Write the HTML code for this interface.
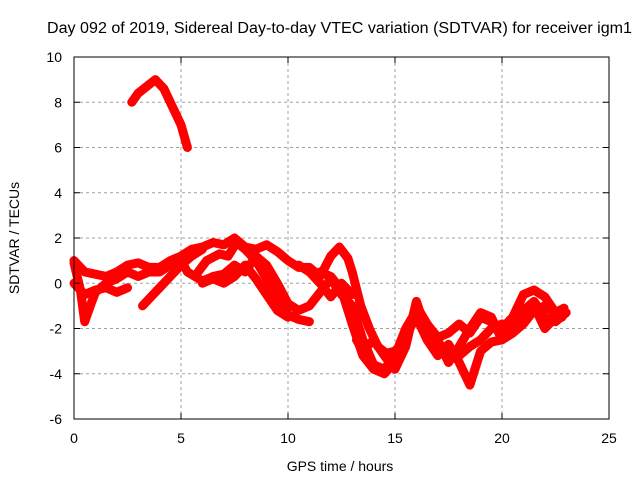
<!DOCTYPE html>
<html><head><meta charset="utf-8"><style>
body{margin:0;background:#fff}
svg text{font-family:"Liberation Sans",sans-serif;font-size:14px;fill:#000}
</style></head><body>
<svg id="c" width="640" height="480" xmlns="http://www.w3.org/2000/svg">
<text x="339.5" y="33" text-anchor="middle" textLength="585" lengthAdjust="spacingAndGlyphs" style="font-size:15.5px">Day 092 of 2019, Sidereal Day-to-day VTEC variation (SDTVAR) for receiver igm1</text>
<text x="340" y="471" text-anchor="middle">GPS time / hours</text>
<text transform="translate(19,238) rotate(-90)" text-anchor="middle">SDTVAR / TECUs</text>
<g id="grid"></g><g id="series"></g><g id="axes"></g>
</svg>
<script>
const xTicks=[0,5,10,15,20,25];
const yTicks=[-6,-4,-2,0,2,4,6,8,10];
const trackA=[[2.7,8.0],[3.0,8.4],[3.4,8.7],[3.8,9.0],[4.2,8.6],[4.6,7.8],[5.0,7.0],[5.3,6.0]];
const track1=[[0,1.0],[0.5,0.5],[1,0.4],[1.5,0.3],[2,0.5],[2.5,0.8],[3,0.9],[3.5,0.7],[4,0.7],[4.5,1.0],[5,1.2],[5.5,1.5],[6,1.6],[6.5,1.8],[7,1.7],[7.5,2.0],[8,1.6],[8.5,1.5],[9,1.7],[9.5,1.4],[10,1.0],[10.5,0.7],[11,0.7],[11.5,0.3],[12,1.2],[12.4,1.6],[12.8,1.1],[13,0.5],[13.4,-1.0],[13.8,-2.0],[14.2,-2.8],[14.6,-3.1],[15,-3.0],[15.5,-2.5],[16,-1.0],[16.5,-1.8],[17,-2.4],[17.5,-2.2],[18,-1.8],[18.5,-2.2],[19,-1.5],[19.5,-1.7],[20,-2.0],[20.5,-1.5],[21,-0.5],[21.5,-0.3],[22,-0.6],[22.5,-1.3],[22.9,-1.1]];
const track2=[[0,0.9],[0.3,-0.3],[0.5,-1.7],[0.8,-0.9],[1,-0.4],[1.5,0],[2,0.2],[2.5,0.5],[3,0.3],[3.5,0.5],[4,0.5],[4.5,0.8],[5,1.0],[5.3,0.5],[6,0.1],[6.5,0.3],[7,0.4],[7.5,0.8],[8,0.5],[8.5,1.2],[9,0.8],[9.5,0],[10,-0.9],[10.5,-1.2],[11,-1.0],[11.5,-0.4],[12,0.2],[12.5,-0.5],[13,-1.0],[13.5,-2.5],[14,-3.6],[14.5,-3.8],[15,-3.2],[15.5,-2.0],[16,-1.2],[16.5,-1.8],[17,-2.8],[17.5,-3.0],[18,-3.2],[18.5,-2.8],[19,-2.5],[19.5,-2.0],[20,-1.8],[20.5,-2.2],[21,-1.2],[21.5,-0.8],[22,-1.5],[22.5,-1.7],[23,-1.3]];
const track3a=[[0,0],[0.5,-0.5],[1,-0.3],[1.5,-0.2],[2,-0.4],[2.5,-0.2]];
const track3b=[[3.2,-1.0],[3.5,-0.7],[4,-0.2],[4.5,0.3],[5,0.8],[5.5,1.2],[6,1.5]];
const track3c=[[5.8,0.5],[6.2,1.0],[6.8,1.3],[7.2,1.2],[7.6,1.8],[8,1.5],[8.5,1.0],[9,0.2],[9.5,-0.6],[10,-1.4],[10.5,-1.6],[11,-1.7]];
const track3d=[[11.5,0.5],[12,0.3],[12.5,-0.3],[13,-1.8],[13.5,-3.2],[14,-3.8],[14.5,-4.0],[15,-3.5],[15.5,-2.3],[16,-1.5],[16.5,-2.5],[17,-3.2],[17.5,-2.7],[18,-3.5],[18.5,-4.5],[19,-3.0],[19.5,-2.6],[20,-2.5],[20.5,-2.0],[21,-1.5],[21.5,-1.0],[22,-2.0],[22.5,-1.5]];
const track4a=[[6,0],[6.5,0.2],[7,0],[7.5,0.3],[8,0.8],[8.5,0.2],[9,-0.5],[9.5,-1.2],[10,-1.5]];
const track4b=[[10.5,0.8],[11,0.5],[11.5,0],[12,-0.6],[12.5,0],[13,-0.5]];
const track4c=[[13.2,-2.5],[13.5,-3.0],[14,-2.5],[14.5,-3.2],[15,-3.8],[15.5,-2.8],[16,-0.8],[16.5,-2.2],[17,-2.5],[17.5,-3.5],[18,-2.8],[18.5,-2.0],[19,-1.3],[19.5,-1.5],[20,-2.5],[20.5,-2.2],[21,-1.8],[21.5,-1.2],[22,-1.0],[22.8,-1.5]];
const tracks=[trackA,track1,track2,track3a,track3b,track3c,track3d,track4a,track4b,track4c];

const X0=74,X1=609,Y0=419,Y1=57;
const sx=v=>X0+(v-0)/25*(X1-X0);
const sy=v=>Y0-(v+6)/16*(Y0-Y1);
const NS="http://www.w3.org/2000/svg";
const mk=(t,a,p)=>{const e=document.createElementNS(NS,t);for(const k in a)e.setAttribute(k,a[k]);p.appendChild(e);return e;};
const grid=document.getElementById('grid'),axes=document.getElementById('axes'),ser=document.getElementById('series');
xTicks.forEach(t=>{
  const x=sx(t);
  if(t>0&&t<25){const l=mk('line',{x1:x,x2:x,y1:Y1,y2:Y0,stroke:'#a0a0a0','stroke-dasharray':'3,3'},grid);
  
  }
  mk('line',{x1:x,x2:x,y1:Y0,y2:Y0-6,stroke:'#000'},axes);
  mk('line',{x1:x,x2:x,y1:Y1,y2:Y1+6,stroke:'#000'},axes);
  const tx=mk('text',{x:x,y:Y0+24,'text-anchor':'middle'},axes);tx.textContent=t;
  
  
});
yTicks.forEach(t=>{
  const y=sy(t);
  if(t>-6&&t<10){const l=mk('line',{x1:X0,x2:X1,y1:y,y2:y,stroke:'#a0a0a0','stroke-dasharray':'3,3'},grid);
  
  }
  mk('line',{x1:X0,x2:X0+6,y1:y,y2:y,stroke:'#000'},axes);
  mk('line',{x1:X1,x2:X1-6,y1:y,y2:y,stroke:'#000'},axes);
  const tx=mk('text',{x:X0-12,y:y+5,'text-anchor':'end'},axes);tx.textContent=t;
  
  
});
const fr=mk('rect',{x:X0,y:Y1,width:X1-X0,height:Y0-Y1,fill:'none',stroke:'#000'},axes);


tracks.forEach(tr=>{
  const p=mk('polyline',{points:tr.map(d=>sx(d[0])+','+sy(d[1])).join(' '),fill:'none',stroke:'#ff0000','stroke-width':9,'stroke-linejoin':'round','stroke-linecap':'round'},ser);
  
  
});
</script>
</body></html>
